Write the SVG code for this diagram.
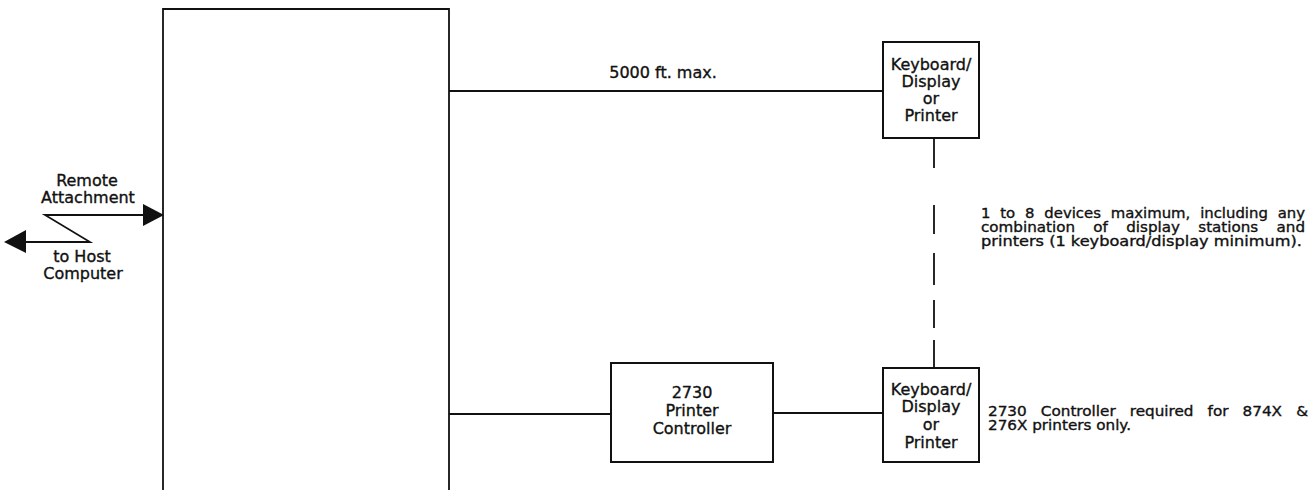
<svg xmlns="http://www.w3.org/2000/svg" width="1312" height="490" viewBox="0 0 1312 490">
<defs>
<style>
.ln{stroke:#111;stroke-width:1.8;fill:none}
.bx{stroke:#111;stroke-width:2;fill:#fff}
.t{font-family:"DejaVu Sans","Liberation Sans",sans-serif;font-size:16px;fill:#111;stroke:#111;stroke-width:0.35;text-anchor:middle}
.n{font-family:"DejaVu Sans","Liberation Sans",sans-serif;font-size:14px;fill:#111;stroke:#111;stroke-width:0.35}
.ah{fill:#111;stroke:none}
</style>
</defs>
<rect width="1312" height="490" fill="#fff"/>
<g id="connectors">
<line class="ln" x1="449" y1="91" x2="883" y2="91"/>
<line class="ln" x1="449" y1="414" x2="611" y2="414"/>
<line class="ln" x1="773" y1="413" x2="883" y2="413"/>
<path class="ln" d="M934 138V168M934 205V234M934 253V285M934 300V328M934 340V368"/>
<path class="ln" d="M145 215H45L90 242H24"/>
<polygon class="ah" points="164,215 143,204 143,226"/>
<polygon class="ah" points="4,242 26,230 26,253"/>
</g>
<g id="host-controller">
<path class="ln" d="M163 490V9H449V490"/>
</g>
<g id="label-remote">
<text class="t" x="87" y="186">Remote</text>
<text class="t" x="88" y="203">Attachment</text>
<text class="t" x="82" y="262">to Host</text>
<text class="t" x="83" y="279">Computer</text>
</g>
<text class="t" x="663" y="78">5000 ft. max.</text>
<g id="device-top">
<rect class="bx" x="883" y="42" width="96" height="96"/>
<text class="t" x="931" y="70">Keyboard/</text>
<text class="t" x="931" y="87">Display</text>
<text class="t" x="931" y="104">or</text>
<text class="t" x="931" y="121">Printer</text>
</g>
<g id="printer-controller">
<rect class="bx" x="611" y="363" width="162" height="99"/>
<text class="t" x="692" y="398">2730</text>
<text class="t" x="692" y="416">Printer</text>
<text class="t" x="692" y="434">Controller</text>
</g>
<g id="device-bottom">
<rect class="bx" x="883" y="368" width="96" height="94"/>
<text class="t" x="931" y="395">Keyboard/</text>
<text class="t" x="931" y="412">Display</text>
<text class="t" x="931" y="430">or</text>
<text class="t" x="931" y="448">Printer</text>
</g>
<g id="note-devices">
<text class="n" x="981" y="218" word-spacing="4.8" textLength="324" lengthAdjust="spacingAndGlyphs">1 to 8 devices maximum, including any</text>
<text class="n" x="981" y="232" word-spacing="12.5" textLength="324" lengthAdjust="spacingAndGlyphs">combination of display stations and</text>
<text class="n" x="981" y="246" textLength="321" lengthAdjust="spacingAndGlyphs">printers (1 keyboard/display minimum).</text>
</g>
<g id="note-controller">
<text class="n" x="988" y="416" word-spacing="8.5" textLength="320" lengthAdjust="spacingAndGlyphs">2730 Controller required for 874X &amp;</text>
<text class="n" x="988" y="430" textLength="143" lengthAdjust="spacingAndGlyphs">276X printers only.</text>
</g>
</svg>
